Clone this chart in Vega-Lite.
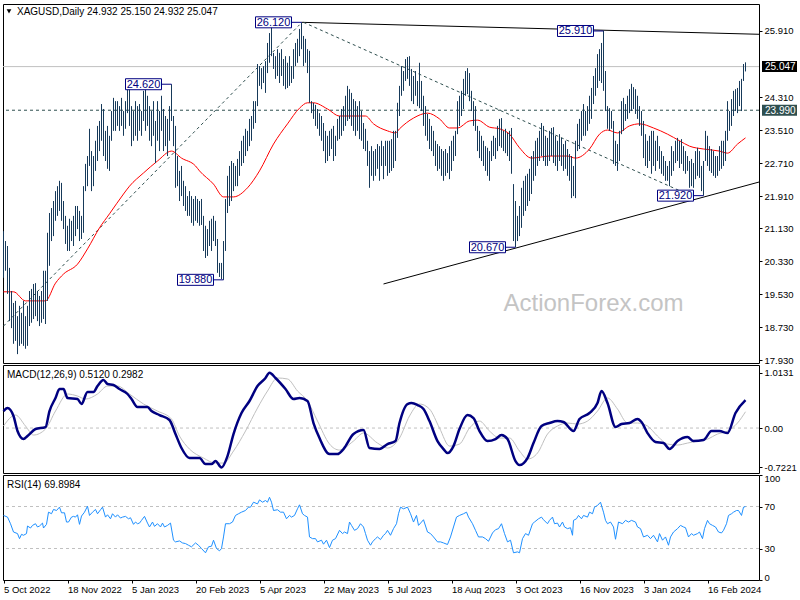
{
"$schema": "https://vega.github.io/schema/vega-lite/v6.json",
"background": "white",
"padding": {"left": 1, "top": 3, "right": 0, "bottom": 0},
"spacing": 2,
"bounds": "flush",
"config": {
  "view": {"stroke": "#000000", "strokeWidth": 1},
  "font": "Liberation Sans",
  "line": {"strokeJoin": "round"},
  "axis": {"labelFont": "Liberation Sans", "labelFontSize": 9.5, "labelColor": "#000000", "tickColor": "#000000", "tickSize": 3, "labelPadding": 2, "domain": false, "grid": false, "labelOverlap": false}
},
"vconcat": [
{
  "width": 756, "height": 359,
  "resolve": {"axis": {"x": "independent", "y": "independent"}},
  "layer": [
    {"data": {"values": [{"p": 25.047}]}, "mark": {"type": "rule", "color": "#c0c0c0", "strokeWidth": 1},
     "encoding": {"y": {"field": "p", "type": "quantitative", "scale": {"domain": [17.865, 26.564], "nice": false, "zero": false}, "axis": null}}},
    {"data": {"values": [{"p": 23.99}]}, "mark": {"type": "rule", "color": "#2f4f4f", "strokeWidth": 1, "strokeDash": [3, 3]},
     "encoding": {"y": {"field": "p", "type": "quantitative", "axis": null}}},
    {"data": {"values": [{}]}, "mark": {"type": "text", "fontSize": 24, "color": "#c4c4c4", "align": "center", "baseline": "middle", "font": "Liberation Sans"},
     "encoding": {"x": {"datum": 295, "axis": null}, "y": {"datum": 19.3, "axis": null}, "text": {"value": "ActionForex.com"}}},
    {"data": {"values": [{"g": "A", "i": 149, "p": 26.12}, {"g": "A", "i": 377.75, "p": 25.83}, {"g": "B", "i": 190, "p": 19.78}, {"g": "B", "i": 377.75, "p": 22.25}]},
     "mark": {"type": "line", "color": "#000000", "strokeWidth": 1},
     "encoding": {"x": {"field": "i", "type": "quantitative", "axis": null}, "y": {"field": "p", "type": "quantitative", "axis": null}, "detail": {"field": "g"}}},
    {"data": {"values": [{"g": "C", "i": 0, "p": 18.76}, {"g": "C", "i": 148, "p": 26.06}, {"g": "D", "i": 150, "p": 26.12}, {"g": "D", "i": 345, "p": 21.89}]},
     "mark": {"type": "line", "color": "#2f4f4f", "strokeWidth": 1, "strokeDash": [3, 3]},
     "encoding": {"x": {"field": "i", "type": "quantitative", "axis": null}, "y": {"field": "p", "type": "quantitative", "axis": null}, "detail": {"field": "g"}}},
    {"data": {"values": "i,v\n0,19.59\n5,19.59\n11,19.37\n21,19.37\n26,19.80\n30,20.02\n37,20.26\n42,20.63\n48,21.14\n53,21.48\n60,21.96\n63,22.15\n70,22.47\n77,22.76\n84,23.00\n89,22.83\n96,22.64\n98,22.52\n105,22.20\n110,21.89\n115,21.89\n122,22.11\n128,22.52\n135,23.17\n142,23.66\n148,24.04\n152,24.17\n155,24.17\n162,24.02\n168,23.85\n175,23.85\n181,23.85\n185,23.66\n192,23.49\n196,23.44\n198,23.54\n205,23.80\n212,23.92\n218,23.78\n223,23.56\n227,23.56\n233,23.73\n237,23.75\n243,23.58\n248,23.54\n253,23.41\n258,23.08\n264,22.83\n273,22.88\n282,22.88\n286,22.83\n293,23.05\n298,23.41\n302,23.51\n307,23.44\n313,23.61\n318,23.66\n325,23.56\n332,23.41\n338,23.25\n343,23.12\n350,23.05\n358,23.00\n362,22.95\n367,23.17\n371,23.32", "format": {"type": "csv", "parse": {"i": "number", "v": "number"}}},
     "mark": {"type": "line", "color": "#ff0000", "strokeWidth": 1, "interpolate": "monotone"},
     "encoding": {"x": {"field": "i", "type": "quantitative", "axis": null}, "y": {"field": "v", "type": "quantitative", "axis": null}}},
    {"data": {"values": "i,h,l\n0,21.06,19.93\n1,20.82,20.10\n2,20.70,19.54\n3,20.17,18.88\n4,19.61,18.71\n5,19.32,18.33\n6,19.37,18.40\n7,19.00,18.08\n8,19.25,18.28\n9,19.08,18.33\n10,19.37,18.28\n11,19.00,18.21\n12,19.25,18.28\n13,19.61,18.76\n14,19.66,18.84\n15,19.78,18.93\n16,19.80,19.00\n17,19.61,18.88\n18,19.49,18.76\n19,19.61,18.84\n20,20.10,18.93\n21,20.10,18.81\n22,21.02,19.37\n23,21.50,20.22\n24,21.62,20.82\n25,21.79,20.94\n26,22.03,21.31\n27,22.15,21.43\n28,22.28,21.55\n29,22.23,21.31\n30,21.79,21.11\n31,21.43,20.75\n32,21.19,20.58\n33,21.36,20.58\n34,21.31,20.82\n35,21.43,20.70\n36,21.67,20.94\n37,21.67,21.11\n38,21.55,20.82\n39,21.43,20.87\n40,22.15,21.02\n41,22.69,22.03\n42,22.88,22.15\n43,23.54,22.64\n44,23.00,22.03\n45,22.88,22.15\n46,23.25,22.52\n47,23.61,22.76\n48,23.73,23.00\n49,24.14,23.25\n50,24.02,22.88\n51,23.49,22.76\n52,23.61,22.57\n53,23.37,22.52\n54,23.97,23.25\n55,24.29,23.49\n56,24.21,23.49\n57,24.21,23.61\n58,24.09,23.49\n59,24.29,23.61\n60,23.97,23.37\n61,24.21,23.54\n62,24.53,23.92\n63,24.50,23.61\n64,24.09,23.12\n65,23.97,23.25\n66,24.21,23.37\n67,24.09,23.25\n68,24.14,23.49\n69,23.97,23.37\n70,24.46,23.73\n71,24.50,23.49\n72,24.34,23.61\n73,24.09,23.25\n74,23.97,23.12\n75,24.21,23.37\n76,23.73,22.71\n77,24.21,23.25\n78,23.97,23.00\n79,24.34,23.49\n80,24.02,23.00\n81,23.85,23.12\n82,23.78,22.88\n83,24.09,23.25\n84,24.62,23.73\n85,23.85,23.12\n86,23.61,22.11\n87,22.88,22.15\n88,22.52,21.79\n89,22.64,21.91\n90,22.28,21.67\n91,22.15,21.55\n92,21.91,21.43\n93,22.03,21.43\n94,21.91,21.26\n95,21.84,21.19\n96,21.91,21.31\n97,21.84,21.26\n98,21.79,21.19\n99,21.84,21.21\n100,21.43,20.58\n101,21.19,20.41\n102,21.11,20.46\n103,21.31,20.70\n104,21.36,20.58\n105,21.43,20.82\n106,21.31,20.70\n107,20.87,20.05\n108,20.29,19.95\n109,20.29,19.90\n110,20.82,19.88\n111,21.84,20.58\n112,22.40,21.50\n113,22.64,21.67\n114,22.76,21.79\n115,22.71,22.03\n116,22.64,22.15\n117,22.81,22.15\n118,23.00,22.40\n119,23.25,22.64\n120,23.37,22.71\n121,23.54,22.88\n122,23.49,23.00\n123,23.78,23.12\n124,23.85,23.25\n125,24.21,23.54\n126,24.21,23.68\n127,25.11,24.09\n128,25.06,24.58\n129,25.01,24.50\n130,25.06,24.65\n131,25.18,24.41\n132,25.62,24.89\n133,25.86,25.14\n134,26.08,25.30\n135,25.38,24.99\n136,25.30,24.75\n137,25.47,24.82\n138,25.38,24.65\n139,25.47,24.82\n140,25.23,24.58\n141,25.30,24.50\n142,25.14,24.53\n143,25.30,24.58\n144,25.06,24.65\n145,25.47,24.75\n146,25.62,25.06\n147,25.72,25.14\n148,25.96,25.30\n149,26.12,25.47\n150,25.79,25.06\n151,25.72,25.14\n152,25.47,24.89\n153,25.43,24.17\n154,24.21,23.92\n155,24.17,23.78\n156,24.12,23.61\n157,24.02,23.54\n158,23.92,23.37\n159,23.85,23.25\n160,23.68,23.00\n161,23.49,22.71\n162,23.37,22.76\n163,23.49,22.88\n164,23.54,23.05\n165,23.61,22.76\n166,23.37,22.88\n167,23.78,23.25\n168,23.85,23.29\n169,24.02,23.37\n170,24.09,23.49\n171,24.34,23.61\n172,24.58,23.73\n173,24.50,23.78\n174,24.41,23.61\n175,24.26,23.49\n176,24.21,23.37\n177,24.09,23.49\n178,24.21,23.29\n179,23.97,23.25\n180,23.68,23.05\n181,23.54,23.00\n182,23.25,22.64\n183,23.00,22.11\n184,23.12,22.40\n185,23.00,22.28\n186,23.05,22.40\n187,23.17,22.57\n188,23.12,22.28\n189,23.25,22.64\n190,23.12,22.32\n191,23.25,22.64\n192,23.25,22.40\n193,23.25,22.47\n194,23.29,22.52\n195,23.49,22.59\n196,23.49,22.76\n197,24.17,23.32\n198,24.58,23.85\n199,25.06,24.34\n200,24.94,24.46\n201,25.23,24.70\n202,25.28,24.75\n203,25.30,24.58\n204,24.99,24.21\n205,24.82,24.14\n206,24.94,24.34\n207,24.70,24.09\n208,25.14,24.04\n209,24.70,23.97\n210,24.34,23.61\n211,24.09,23.37\n212,23.90,23.25\n213,23.78,23.05\n214,23.61,23.00\n215,23.49,22.88\n216,23.25,22.64\n217,23.17,22.52\n218,23.12,22.57\n219,23.05,22.40\n220,23.00,22.28\n221,23.05,22.40\n222,22.95,22.47\n223,23.12,22.32\n224,23.25,22.52\n225,23.37,22.76\n226,23.49,22.88\n227,24.21,23.41\n228,24.34,23.61\n229,24.46,23.85\n230,24.75,24.02\n231,24.94,24.34\n232,25.01,24.38\n233,24.89,24.21\n234,24.46,23.97\n235,24.21,23.61\n236,24.09,23.49\n237,23.61,23.00\n238,23.49,22.83\n239,23.37,22.76\n240,23.25,22.64\n241,23.12,22.52\n242,23.08,22.40\n243,23.00,22.28\n244,23.25,22.76\n245,23.37,22.88\n246,23.32,22.81\n247,23.61,23.00\n248,23.78,23.12\n249,23.80,23.08\n250,23.49,23.00\n251,23.54,22.95\n252,23.44,22.88\n253,23.49,22.76\n254,23.56,22.45\n255,22.20,20.82\n256,21.79,20.67\n257,21.43,20.82\n258,21.67,20.94\n259,22.11,21.14\n260,22.28,21.43\n261,22.40,21.55\n262,22.45,21.67\n263,22.57,21.79\n264,22.88,21.96\n265,23.00,22.28\n266,23.25,22.40\n267,23.32,22.64\n268,23.49,22.76\n269,23.68,22.88\n270,23.61,22.76\n271,23.37,22.64\n272,23.32,22.64\n273,23.49,22.76\n274,23.56,22.88\n275,23.58,22.71\n276,23.37,22.64\n277,23.25,22.52\n278,23.41,22.76\n279,23.32,22.64\n280,23.17,22.52\n281,23.25,22.57\n282,23.05,22.40\n283,22.93,22.28\n284,22.88,21.86\n285,22.64,21.91\n286,23.25,21.86\n287,23.66,23.00\n288,23.78,23.05\n289,23.97,23.25\n290,24.14,23.37\n291,23.97,23.37\n292,24.09,23.49\n293,24.34,23.66\n294,24.53,23.78\n295,24.82,24.14\n296,25.01,24.34\n297,25.35,24.53\n298,25.47,24.70\n299,25.62,24.65\n300,25.91,24.46\n301,24.94,23.97\n302,24.09,23.54\n303,24.04,23.49\n304,23.97,23.54\n305,23.73,22.69\n306,23.25,22.64\n307,23.17,22.52\n308,23.49,22.76\n309,24.21,23.41\n310,24.29,23.49\n311,24.14,23.73\n312,24.34,23.78\n313,24.50,23.92\n314,24.63,23.97\n315,24.55,24.02\n316,24.50,23.90\n317,24.34,23.78\n318,24.09,23.61\n319,23.97,23.37\n320,23.73,22.83\n321,23.41,22.64\n322,23.25,22.59\n323,23.37,22.76\n324,23.49,22.45\n325,23.49,22.64\n326,23.25,22.52\n327,23.37,22.76\n328,23.12,22.57\n329,23.00,22.45\n330,22.88,22.40\n331,22.76,22.28\n332,22.64,22.28\n333,22.76,22.15\n334,23.12,22.40\n335,23.00,22.52\n336,23.25,22.71\n337,23.32,22.76\n338,23.25,22.59\n339,23.29,22.69\n340,23.12,22.52\n341,23.00,22.45\n342,22.88,22.52\n343,22.76,22.11\n344,22.81,22.15\n345,22.71,22.11\n346,23.00,22.32\n347,23.08,22.40\n348,23.00,22.35\n349,22.64,22.03\n350,22.76,21.92\n351,23.49,22.76\n352,23.37,22.64\n353,23.12,22.52\n354,23.05,22.47\n355,23.00,22.40\n356,22.88,22.35\n357,22.88,22.40\n358,23.12,22.52\n359,23.25,22.57\n360,23.25,22.64\n361,23.49,22.76\n362,24.21,23.25\n363,23.97,23.49\n364,24.26,23.61\n365,24.46,23.85\n366,24.50,23.97\n367,24.53,23.92\n368,24.70,24.09\n369,24.75,23.97\n370,25.11,24.70\n371,25.15,24.93", "format": {"type": "csv", "parse": {"i": "number", "h": "number", "l": "number"}}},
     "mark": {"type": "rule", "color": "#173a5a", "strokeWidth": 1},
     "encoding": {
       "x": {"field": "i", "type": "quantitative", "scale": {"domain": [-0.25, 377.75], "nice": false, "zero": false}, "axis": null},
       "y": {"field": "l", "type": "quantitative", "scale": {"domain": [17.865, 26.564], "nice": false, "zero": false},
             "axis": {"orient": "right", "title": null, "values": [25.91, 24.31, 23.51, 22.71, 21.91, 21.13, 20.33, 19.53, 18.73, 17.93], "format": ".3f", "labelOverlap": false}},
       "y2": {"field": "h"}}},
    {"data": {"values": [{"t": "26.120", "i": 149, "p": 26.12}, {"t": "24.620", "i": 84, "p": 24.62}, {"t": "19.880", "i": 110, "p": 19.88}, {"t": "20.670", "i": 256, "p": 20.67}, {"t": "25.910", "i": 300, "p": 25.91}, {"t": "21.920", "i": 350, "p": 21.92}]},
     "layer": [
       {"mark": {"type": "point", "shape": "M-46,-5.5H-10V5.5H-46ZM-10,0H0", "size": 4, "filled": true, "fill": "#ffffff", "stroke": "#000080", "strokeWidth": 1, "opacity": 1},
        "encoding": {"x": {"field": "i", "type": "quantitative", "axis": null}, "y": {"field": "p", "type": "quantitative", "axis": null}}},
       {"mark": {"type": "text", "fontSize": 11, "color": "#000080", "align": "center", "baseline": "middle", "dx": -28, "dy": 0.5},
        "encoding": {"x": {"field": "i", "type": "quantitative", "axis": null}, "y": {"field": "p", "type": "quantitative", "axis": null}, "text": {"field": "t"}}}
     ]},
    {"data": {"values": [{"t": "25.047", "p": 25.047}, {"t": "23.990", "p": 23.99}]},
     "layer": [
       {"mark": {"type": "point", "shape": "M3,-5.5H38V5.5H3Z", "size": 4, "filled": true, "opacity": 1, "strokeWidth": 0},
        "encoding": {"x": {"datum": 377.75, "axis": null}, "y": {"field": "p", "type": "quantitative", "axis": null},
                     "fill": {"field": "t", "type": "nominal", "scale": {"domain": ["25.047", "23.990"], "range": ["#000000", "#2f4f4f"]}, "legend": null}}},
       {"mark": {"type": "text", "fontSize": 10, "color": "#ffffff", "align": "left", "baseline": "middle", "dx": 6, "dy": 0.5},
        "encoding": {"x": {"datum": 377.75, "axis": null}, "y": {"field": "p", "type": "quantitative", "axis": null}, "text": {"field": "t"}}}
     ]},
    {"data": {"values": [{}]}, "mark": {"type": "text", "fontSize": 10, "color": "#000000", "align": "left", "baseline": "middle"},
     "encoding": {"x": {"datum": 6.75, "axis": null}, "y": {"datum": 26.37, "axis": null}, "text": {"value": "XAGUSD,Daily  24.932 25.150 24.932 25.047"}}},
    {"data": {"values": [{}]}, "mark": {"type": "point", "shape": "triangle-down", "size": 22, "filled": true, "color": "#000000", "opacity": 1},
     "encoding": {"x": {"datum": 2.75, "axis": null}, "y": {"datum": 26.385, "axis": null}}}
  ]
},
{
  "width": 756, "height": 108,
  "resolve": {"axis": {"x": "independent", "y": "independent"}},
  "layer": [
    {"data": {"values": [{"v": 0}]}, "mark": {"type": "rule", "color": "#c0c0c0", "strokeWidth": 1, "strokeDash": [3, 3]},
     "encoding": {"y": {"field": "v", "type": "quantitative", "scale": {"domain": [-0.823, 1.154], "nice": false, "zero": false},
       "axis": {"orient": "right", "title": null, "values": [1.0131, 0, -0.7221], "labelExpr": "datum.value > 1 ? '1.0131' : (datum.value < 0 ? '-0.7221' : '0.00')", "labelOverlap": false}}}},
    {"data": {"values": "i,s\n0,0.037\n6,0.238\n11,0.037\n15,-0.128\n21,-0.018\n26,0.311\n32,0.623\n37,0.586\n41,0.531\n47,0.623\n52,0.769\n57,0.769\n63,0.623\n70,0.440\n77,0.311\n84,0.165\n88,-0.147\n93,-0.385\n100,-0.550\n106,-0.641\n110,-0.641\n115,-0.421\n121,-0.055\n127,0.366\n132,0.678\n137,0.916\n142,0.898\n147,0.678\n152,0.495\n157,0.128\n163,-0.293\n168,-0.403\n175,-0.238\n180,-0.092\n187,-0.275\n192,-0.366\n198,-0.183\n203,0.220\n208,0.440\n213,0.348\n218,0.000\n223,-0.330\n228,-0.293\n233,0.000\n238,0.128\n243,-0.055\n248,-0.183\n253,-0.183\n258,-0.421\n262,-0.568\n267,-0.458\n272,-0.110\n277,0.037\n282,0.092\n287,0.073\n292,0.128\n297,0.311\n302,0.550\n307,0.348\n312,0.092\n317,0.092\n322,0.037\n327,-0.147\n332,-0.293\n337,-0.311\n342,-0.275\n347,-0.238\n352,-0.202\n357,-0.110\n362,-0.055\n367,0.092\n371,0.298", "format": {"type": "csv", "parse": {"i": "number", "s": "number"}}},
     "mark": {"type": "line", "color": "#c0c0c0", "strokeWidth": 1, "interpolate": "monotone"},
     "encoding": {"x": {"field": "i", "type": "quantitative", "scale": {"domain": [-0.25, 377.75], "nice": false, "zero": false}, "axis": null}, "y": {"field": "s", "type": "quantitative", "axis": null}}},
    {"data": {"values": "i,m\n0,0.311\n2,0.366\n5,0.220\n7,-0.055\n10,-0.202\n12,-0.147\n16,-0.018\n21,0.018\n23,0.311\n26,0.550\n28,0.714\n30,0.714\n32,0.550\n37,0.531\n39,0.440\n42,0.660\n45,0.660\n47,0.769\n50,0.879\n52,0.806\n55,0.788\n58,0.714\n62,0.623\n64,0.531\n67,0.385\n72,0.385\n74,0.311\n78,0.238\n83,0.147\n86,-0.110\n89,-0.366\n93,-0.550\n98,-0.550\n101,-0.660\n104,-0.660\n106,-0.605\n109,-0.722\n112,-0.513\n115,-0.110\n119,0.275\n123,0.495\n127,0.769\n131,0.916\n133,1.013\n136,0.916\n141,0.714\n145,0.531\n148,0.550\n152,0.495\n155,0.092\n158,-0.183\n163,-0.476\n167,-0.476\n170,-0.385\n175,-0.110\n180,-0.037\n183,-0.366\n188,-0.385\n192,-0.293\n196,-0.238\n198,0.092\n202,0.440\n204,0.458\n207,0.421\n210,0.348\n213,0.128\n217,-0.238\n220,-0.385\n222,-0.458\n225,-0.330\n228,-0.018\n232,0.238\n235,0.183\n238,-0.055\n242,-0.238\n246,-0.202\n249,-0.128\n252,-0.202\n256,-0.605\n258,-0.678\n262,-0.550\n265,-0.275\n269,0.037\n273,0.092\n277,0.128\n280,0.110\n285,-0.055\n288,0.165\n293,0.275\n297,0.458\n299,0.678\n302,0.458\n306,0.018\n309,0.073\n313,0.092\n317,0.165\n319,0.110\n322,-0.092\n326,-0.256\n330,-0.275\n333,-0.385\n337,-0.238\n342,-0.165\n345,-0.238\n350,-0.220\n354,-0.055\n358,-0.055\n362,-0.092\n366,0.275\n371,0.512", "format": {"type": "csv", "parse": {"i": "number", "m": "number"}}},
     "mark": {"type": "line", "color": "#000080", "strokeWidth": 2.5, "interpolate": "monotone"},
     "encoding": {"x": {"field": "i", "type": "quantitative", "axis": null}, "y": {"field": "m", "type": "quantitative", "axis": null}}},
    {"data": {"values": [{}]}, "mark": {"type": "text", "fontSize": 10, "color": "#000000", "align": "left", "baseline": "middle"},
     "encoding": {"x": {"datum": 1.75, "axis": null}, "y": {"datum": 0.98, "axis": null}, "text": {"value": "MACD(12,26,9) 0.5120 0.2982"}}}
  ]
},
{
  "width": 756, "height": 105,
  "resolve": {"axis": {"x": "independent", "y": "independent"}},
  "layer": [
    {"data": {"values": [{"v": 30}, {"v": 70}]}, "mark": {"type": "rule", "color": "#c0c0c0", "strokeWidth": 1, "strokeDash": [3, 3]},
     "encoding": {"y": {"field": "v", "type": "quantitative", "scale": {"domain": [0, 100], "nice": false, "zero": false},
       "axis": {"orient": "right", "title": null, "values": [0, 30, 70, 100], "labelFlush": true, "labelFlushOffset": 2, "labelOverlap": false}}}},
    {"data": {"values": "i,r\n0,61.5\n2,59.9\n3.5,53.6\n5,45.7\n7,44.2\n8,39.4\n9,43.5\n10,42.6\n11.5,44.2\n12,51.4\n13.5,49.5\n14.5,52.0\n16,53.6\n17,50.5\n18,51.4\n19.5,54.2\n20,49.5\n21.5,53.0\n22.5,64.6\n24,63.1\n25,67.2\n26.5,66.2\n28,69.4\n29,64.0\n30.5,64.0\n31.5,55.2\n32.5,55.2\n34,59.9\n35,60.6\n36,59.9\n37,62.1\n38,53.0\n39,60.9\n40.5,64.6\n42,70.3\n43,61.5\n44.5,64.6\n46,67.2\n47,63.1\n48.5,66.9\n49.5,69.4\n51,59.9\n52,62.1\n53.5,58.3\n54.5,63.1\n56,59.9\n57,62.1\n58.5,59.0\n59.5,59.9\n61,60.6\n62.5,58.3\n63.5,59.3\n65,53.0\n66,55.2\n67,53.6\n68,54.2\n69,56.8\n70.5,60.6\n72,54.2\n73,50.5\n74.5,55.2\n75.5,51.1\n77,53.6\n78.5,50.5\n79.5,54.2\n80.5,50.5\n82,52.0\n83.5,54.2\n85,37.9\n86,36.3\n88,37.2\n89.5,35.3\n91,34.7\n92.5,33.1\n94,31.6\n96,35.3\n97.5,33.1\n99,30.0\n101,25.9\n102.5,31.6\n104,32.2\n105,37.9\n106.5,30.0\n108,27.8\n109,30.0\n110,41.0\n111,53.6\n113,53.6\n114.5,55.2\n116,61.5\n117.5,63.1\n119,64.6\n121,66.2\n122.5,69.4\n123.5,69.4\n125,74.1\n127,72.5\n128,76.3\n129.5,74.1\n131,75.7\n132,74.1\n133,78.8\n134,74.1\n135,66.2\n137,66.9\n138.5,64.6\n140,64.6\n141.5,58.3\n143,61.5\n144,59.9\n145.5,61.5\n147,67.8\n148,71.6\n149.5,63.1\n150.5,61.5\n152,59.9\n153,41.0\n154.5,39.4\n156,39.4\n157,36.3\n159,37.9\n160,34.1\n161.5,37.9\n163,30.9\n164.5,37.9\n166,39.4\n168,47.3\n169.5,44.2\n170.5,45.7\n172,44.2\n173,55.2\n174,52.0\n175.5,47.3\n177,48.9\n178.5,53.6\n180,50.5\n181,44.2\n182,37.9\n183.5,33.1\n184.5,36.3\n186,39.4\n187,41.0\n188.5,38.5\n190,42.6\n191,44.2\n192,47.3\n193.5,42.6\n195,48.9\n196.5,53.6\n197.5,63.1\n198.5,69.4\n200,67.8\n202,69.4\n203.5,63.1\n205,55.2\n206.5,61.5\n207.5,52.0\n209,55.2\n210,57.4\n212,45.7\n213.5,44.2\n215,41.0\n217,36.3\n218.5,36.3\n220,35.3\n222,33.8\n223.5,41.0\n225,50.5\n226.5,59.9\n228,61.5\n230,63.1\n231.5,64.6\n232.5,59.9\n234.5,53.6\n236,47.3\n237.5,41.0\n239.5,41.0\n241,39.4\n242.5,36.9\n244.5,44.8\n246,47.9\n247.5,48.9\n249,53.6\n250.5,44.2\n252,36.3\n253.5,37.9\n255,25.9\n257,26.8\n258,25.9\n259.5,39.4\n261,44.2\n262.5,42.6\n264.5,53.6\n265.5,55.2\n267.5,58.3\n269,59.9\n270,57.4\n272,53.6\n273,56.8\n274.5,59.9\n275.5,53.6\n277,54.2\n278,50.5\n279.5,55.2\n280.5,50.5\n282,48.9\n283.5,49.8\n284.5,42.6\n285,56.8\n286.5,58.3\n287.5,61.5\n289,58.3\n290,61.5\n292,59.9\n293,64.6\n294.5,63.1\n295.5,69.4\n297,71.0\n298.5,74.1\n300,64.6\n301,56.8\n302,53.6\n303.5,55.2\n305,50.5\n306,38.8\n307.5,55.2\n309.5,53.6\n311,56.8\n312.5,55.2\n314,56.8\n316,55.2\n317,50.5\n318.5,48.9\n320,41.0\n322,42.6\n323.5,39.4\n325,42.6\n327,36.3\n328,44.2\n329.5,37.9\n331,41.0\n332.5,33.1\n333.5,41.0\n335,45.7\n337,48.9\n338.5,52.0\n340,50.5\n341,49.8\n342.5,41.0\n344,44.2\n345,42.6\n347,44.2\n348,45.7\n349.5,39.4\n350.5,48.9\n352,56.8\n353,53.6\n354.5,52.0\n356,50.5\n357.5,45.7\n359,44.8\n360,47.3\n361.5,53.6\n362.5,61.5\n364,63.1\n365,64.6\n366.5,66.2\n367.5,66.2\n369,61.5\n370,69.4\n371,69.9", "format": {"type": "csv", "parse": {"i": "number", "r": "number"}}},
     "mark": {"type": "line", "color": "#1e90ff", "strokeWidth": 1},
     "encoding": {
       "x": {"field": "i", "type": "quantitative", "scale": {"domain": [-0.25, 377.75], "nice": false, "zero": false},
             "axis": {"title": null, "values": [0, 32, 64, 96, 128, 160, 192, 224, 256, 288, 320, 352], "labelExpr": "['5 Oct 2022','18 Nov 2022','5 Jan 2023','20 Feb 2023','5 Apr 2023','22 May 2023','5 Jul 2023','18 Aug 2023','3 Oct 2023','16 Nov 2023','3 Jan 2024','16 Feb 2024'][round(datum.value/32)]", "labelAlign": "left", "labelOverlap": false, "labelFlush": false, "labelBound": false, "labelPadding": 1}},
       "y": {"field": "r", "type": "quantitative", "axis": null}}},
    {"data": {"values": [{}]}, "mark": {"type": "text", "fontSize": 10, "color": "#000000", "align": "left", "baseline": "middle"},
     "encoding": {"x": {"datum": 1.75, "axis": null}, "y": {"datum": 90.8, "axis": null}, "text": {"value": "RSI(14) 69.8984"}}}
  ]
}
]
}
